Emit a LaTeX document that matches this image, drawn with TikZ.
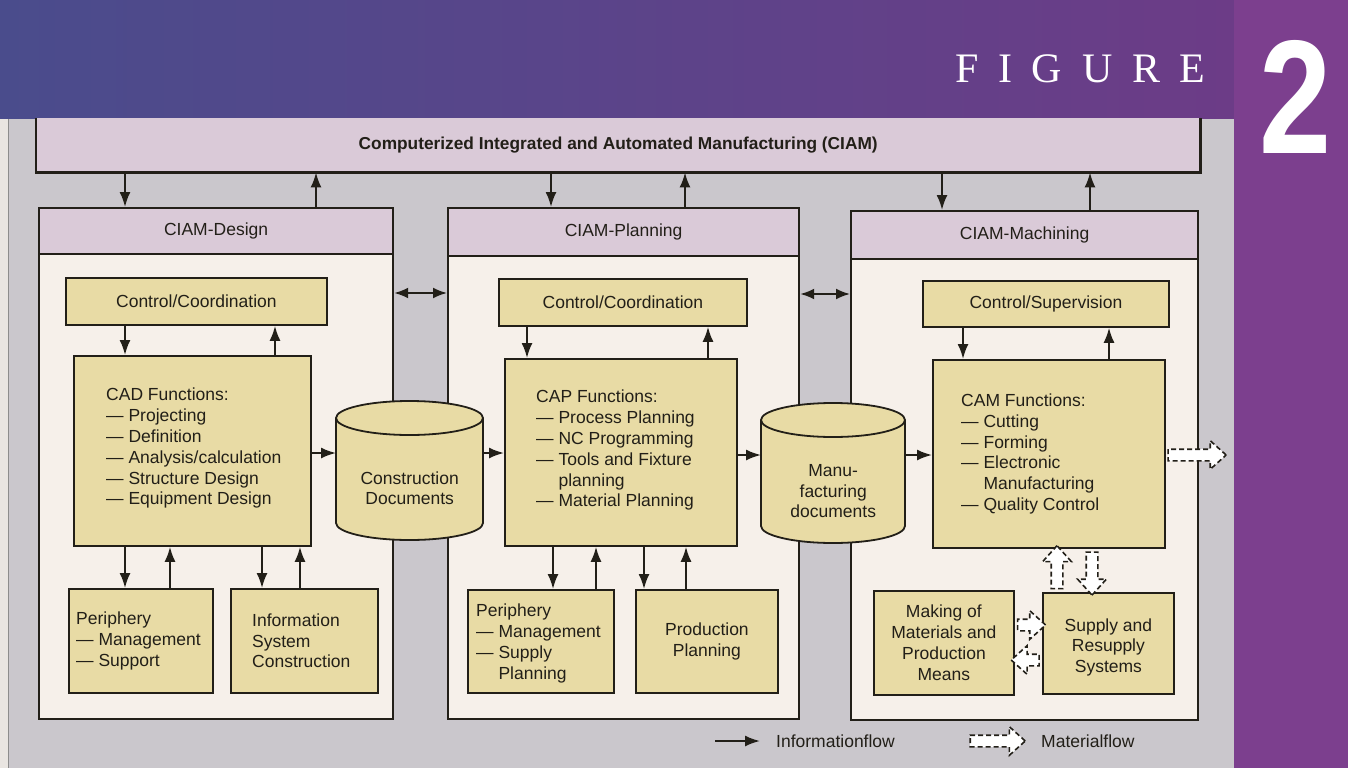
\documentclass[tikz,border=0pt]{standalone}
\usepackage{fontspec}
\setmainfont{Liberation Sans}
\newfontfamily\figfont{Liberation Serif}
\newfontfamily\numfont[FakeStretch=0.8]{Liberation Sans}
\usetikzlibrary{arrows.meta,shapes.arrows,calc}
\definecolor{panel}{HTML}{CAC7CC}
\definecolor{strip}{HTML}{E9E5E1}
\definecolor{hdrL}{HTML}{4A4C8C}
\definecolor{hdrR}{HTML}{6C3C87}
\definecolor{purp}{HTML}{7C3F8E}
\definecolor{pinkh}{HTML}{DACAD8}
\definecolor{cream}{HTML}{F6F0EA}
\definecolor{tanc}{HTML}{E8DBA5}
\definecolor{ink}{HTML}{221F18}
\newcommand{\txtfont}{\fontsize{17.5}{20.8}\selectfont}
\newcommand{\drawcyl}[4]{%
  \fill[tanc] (#1-#2,#3) rectangle (#1+#2,#4);
  \fill[tanc] (#1,#4) ellipse[x radius=#2, y radius=17];
  \draw[draw=ink, line width=1.8pt] (#1-#2,#3) -- (#1-#2,#4) arc[start angle=180, end angle=0, x radius=#2, y radius=17] -- (#1+#2,#3);
  \filldraw[fill=tanc, draw=ink, line width=1.8pt] (#1,#3) ellipse[x radius=#2, y radius=17];
}
\begin{document}
\begin{tikzpicture}[x=1pt, y=-1pt,
  outer/.style={draw=ink, line width=2.2pt, fill=cream, inner sep=0pt, anchor=north west},
  hdr/.style={draw=ink, line width=2.2pt, fill=pinkh, inner sep=0pt, anchor=north west, font=\txtfont, text=ink},
  ibox/.style={draw=ink, line width=1.8pt, fill=tanc, inner sep=0pt, anchor=north west, font=\txtfont, text=ink, align=center},
  txt/.style={inner sep=0pt, font=\txtfont, text=ink, align=left, anchor=west},
  ctxt/.style={inner sep=0pt, font=\txtfont, text=ink, align=center},
  info/.style={draw=ink, line width=2pt, -{Latex[length=15pt,width=11pt]}},
  info2/.style={draw=ink, line width=2pt, {Latex[length=14pt,width=11pt]}-{Latex[length=14pt,width=11pt]}},
  matarr/.style={single arrow, draw=ink, line width=1.6pt, dash pattern=on 5pt off 3pt, fill=white,
    inner sep=0pt, text height=5pt, text depth=5pt, minimum width=27pt,
    single arrow head extend=8.5pt, single arrow tip angle=84, minimum height=#1,
    sloped, allow upside down, midway}]
\useasboundingbox (0,0) rectangle (1348,768);
% background
\fill[strip] (0,0) rectangle (1348,768);
\fill[panel] (8,118) rectangle (1234,768);
\draw[line width=0.8pt, black!45] (8,118) -- (8,768);
\shade[left color=hdrL, right color=hdrR] (0,0) rectangle (1234,118);
\fill[purp] (1234,0) rectangle (1348,768);
\node[font=\figfont\fontsize{42}{42}\selectfont\addfontfeature{LetterSpace=47}, text=white, anchor=west, inner sep=0pt] (fig) at (955,69) {FIGURE};
\node[font=\numfont\bfseries\fontsize{162}{162}\selectfont, text=white, inner sep=0pt] (two) at (1296,97) {2};

% CIAM bar
\node[fill=pinkh, inner sep=0pt, anchor=north west, minimum width=1164pt, minimum height=54pt,
  font=\bfseries\fontsize{17.3}{20}\selectfont, text=ink] (ciam) at (36,118) {Computerized Integrated and Automated Manufacturing (CIAM)};
\draw[draw=ink, line width=2.2pt] (ciam.north west) -- (ciam.south west) -- (ciam.south east) -- (ciam.north east);

% outer boxes
\node[outer, minimum width=354pt, minimum height=511pt] (design) at (38,207) {};
\node[hdr, minimum width=354pt, minimum height=46pt] (designh) at (38,207) {CIAM-Design};
\node[outer, minimum width=351pt, minimum height=511pt] (planning) at (447,207) {};
\node[hdr, minimum width=351pt, minimum height=48pt] (planningh) at (447,207) {CIAM-Planning};
\node[outer, minimum width=347pt, minimum height=509pt] (machining) at (850,210) {};
\node[hdr, minimum width=347pt, minimum height=48pt] (machiningh) at (850,210) {CIAM-Machining};

% design inner
\node[ibox, minimum width=261pt, minimum height=47pt] (ctrl1) at (65,277) {Control/Coordination};
\node[ibox, minimum width=237pt, minimum height=190pt] (cad1) at (73,355) {};
\node[txt] (cadt) at ([xshift=33pt, yshift=2.5pt]cad1.west) {CAD Functions:\\— Projecting\\— Definition\\— Analysis/calculation\\— Structure Design\\— Equipment Design};
\node[ibox, minimum width=144pt, minimum height=104pt] (per1) at (68,588) {};
\node[txt] (per1t) at ([xshift=8pt]per1.west) {Periphery\\— Management\\— Support};
\node[ibox, minimum width=147pt, minimum height=104pt] (inf1) at (230,588) {};
\node[txt] (inf1t) at ([xshift=22pt]inf1.west) {Information\\System\\Construction};

% planning inner
\node[ibox, minimum width=248pt, minimum height=47pt] (ctrl2) at (498,278) {Control/Coordination};
\node[ibox, minimum width=232pt, minimum height=187pt] (cap2) at (504,358) {};
\node[txt] (capt) at ([xshift=32pt, yshift=2pt]cap2.west) {CAP Functions:\\— Process Planning\\— NC Programming\\— Tools and Fixture\\\phantom{— }planning\\— Material Planning};
\node[ibox, minimum width=146pt, minimum height=103pt] (per2) at (467,589) {};
\node[txt] (per2t) at ([xshift=9pt, yshift=-2pt]per2.west) {Periphery\\— Management\\— Supply\\\phantom{— }Planning};
\node[ibox, minimum width=142pt, minimum height=103pt] (prod2) at (635,589) {Production\\Planning};

% machining inner
\node[ibox, minimum width=246pt, minimum height=46pt] (ctrl3) at (922,280) {Control/Supervision};
\node[ibox, minimum width=232pt, minimum height=188pt] (cam3) at (932,359) {};
\node[txt] (camt) at ([xshift=29pt]cam3.west) {CAM Functions:\\— Cutting\\— Forming\\— Electronic\\\phantom{— }Manufacturing\\— Quality Control};
\node[ibox, minimum width=140pt, minimum height=104pt] (make3) at (873,590) {Making of\\Materials and\\Production\\Means};
\node[ibox, minimum width=131pt, minimum height=101pt] (sup3) at (1042,592) {};
\node[ctxt] (sup3t) at ([yshift=-4pt]sup3.center) {Supply and\\Resupply\\Systems};

% cylinders
\drawcyl{409.5}{73.5}{418}{523}
\node[inner sep=0pt, anchor=north west, minimum width=147pt, minimum height=139pt] (con) at (336,401) {};
\node[ctxt] (cont) at ([yshift=-17.5pt]con.center) {Construction\\Documents};
\drawcyl{833}{72}{420}{526}
\node[inner sep=0pt, anchor=north west, minimum width=144pt, minimum height=140pt] (man) at (761,403) {};
\node[ctxt] (mant) at ([yshift=-18pt]man.center) {Manu-\\facturing\\documents};

% helper coordinates
\coordinate (xa) at (125,0);  \coordinate (xb) at (316,0);
\coordinate (xc) at (551,0);  \coordinate (xd) at (685,0);
\coordinate (xe) at (942,0);  \coordinate (xf) at (1090,0);
\coordinate (xg) at (275,0);  \coordinate (xh) at (170,0);
\coordinate (xi) at (262,0);  \coordinate (xj) at (300,0);
\coordinate (xk) at (527,0);  \coordinate (xl) at (708,0);
\coordinate (xm) at (553,0);  \coordinate (xn) at (596,0);
\coordinate (xo) at (644,0);  \coordinate (xp) at (686,0);
\coordinate (xq) at (963,0);  \coordinate (xr) at (1109,0);
\coordinate (xs) at (1057,0); \coordinate (xt) at (1092,0);
\coordinate (ya) at (0,293);  \coordinate (yb) at (0,294);
\coordinate (yc) at (0,453);  \coordinate (yd) at (0,455);
\coordinate (ye) at (0,625);  \coordinate (yf) at (0,660);
\coordinate (out) at (1222,455);

% bar <-> boxes
\draw[info] (ciam.south -| xa) -- (design.north -| xa);
\draw[info] (design.north -| xb) -- (ciam.south -| xb);
\draw[info] (ciam.south -| xc) -- (planning.north -| xc);
\draw[info] (planning.north -| xd) -- (ciam.south -| xd);
\draw[info] (ciam.south -| xe) -- (machining.north -| xe);
\draw[info] (machining.north -| xf) -- (ciam.south -| xf);
% between boxes
\draw[info2] (design.east |- ya) -- (planning.west |- ya);
\draw[info2] (planning.east |- yb) -- (machining.west |- yb);
% design
\draw[info] (ctrl1.south -| xa) -- (cad1.north -| xa);
\draw[info] (cad1.north -| xg) -- (ctrl1.south -| xg);
\draw[info] (cad1.south -| xa) -- (per1.north -| xa);
\draw[info] (per1.north -| xh) -- (cad1.south -| xh);
\draw[info] (cad1.south -| xi) -- (inf1.north -| xi);
\draw[info] (inf1.north -| xj) -- (cad1.south -| xj);
% documents
\draw[info] (cad1.east |- yc) -- (con.west |- yc);
\draw[info] (con.east |- yc) -- (cap2.west |- yc);
\draw[info] (cap2.east |- yd) -- (man.west |- yd);
\draw[info] (man.east |- yd) -- (cam3.west |- yd);
% planning
\draw[info] (ctrl2.south -| xk) -- (cap2.north -| xk);
\draw[info] (cap2.north -| xl) -- (ctrl2.south -| xl);
\draw[info] (cap2.south -| xm) -- (per2.north -| xm);
\draw[info] (per2.north -| xn) -- (cap2.south -| xn);
\draw[info] (cap2.south -| xo) -- (prod2.north -| xo);
\draw[info] (prod2.north -| xp) -- (cap2.south -| xp);
% machining
\draw[info] (ctrl3.south -| xq) -- (cam3.north -| xq);
\draw[info] (cam3.north -| xr) -- (ctrl3.south -| xr);
% material flows
\path (cam3.east |- yd) -- (out) node[matarr=58pt] (m1) {};
\path (sup3.north -| xs) -- (cam3.south -| xs) node[matarr=43pt] (m2) {};
\path (cam3.south -| xt) -- (sup3.north -| xt) node[matarr=43pt] (m3) {};
\path (make3.east |- ye) -- (sup3.west |- ye) node[matarr=28pt] (m4) {};
\path (sup3.west |- yf) -- (make3.east |- yf) node[matarr=28pt] (m5) {};

% legend
\coordinate (li1) at (715,741); \coordinate (li2) at (760,741);
\draw[info] (li1) -- (li2);
\node[txt] (lit) at (776,741) {Informationflow};
\coordinate (lm1) at (967,741); \coordinate (lm2) at (1022,741);
\path (lm1) -- (lm2) node[matarr=55pt] (lm) {};
\node[txt] (lmt) at (1041,741) {Materialflow};
\end{tikzpicture}
\end{document}
